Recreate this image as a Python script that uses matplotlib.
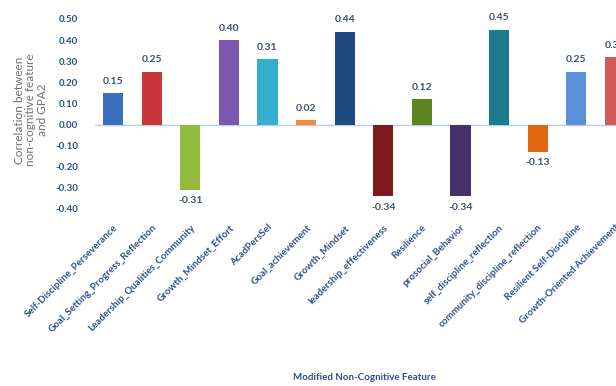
import matplotlib
matplotlib.use('Agg')
import matplotlib.pyplot as plt
import numpy as np

plt.rcParams['font.family'] = ['Lato', 'DejaVu Sans']

# Data
features = ['Self-Discipline_Perseverance', 'Goal_Setting_Progress_Reflection',
            'Leadership_Qualities_Community', 'Growth_Mindset_Effort', 'AcadPersSel',
            'Goal_achievement', 'Growth_Mindset', 'leadership_effectiveness',
            'Resilience', 'prosocial_Behavior', 'self_discipline_reflection',
            'community_discipline_reflection', 'Resilient Self-Discipline',
            'Growth-Oriented Achievement']
corr = [0.15, 0.25, -0.31, 0.40, 0.31, 0.02, 0.44, -0.34, 0.12, -0.34, 0.45, -0.13, 0.25, 0.32]
yticks = [0.50, 0.40, 0.30, 0.20, 0.10, 0.00, -0.10, -0.20, -0.30, -0.40]

colors = ['#3d6fc0', '#c9373a', '#92bb3e', '#7d57ae', '#36aed0', '#ee8c3c', '#1d4a80',
          '#7c1a1d', '#5c8421', '#46306b', '#1b7a8c', '#e0660f', '#5a90d8', '#d35a5a']

label_col = '#2c4f8a'
text_col = '#3d4f6e'

fig = plt.figure(figsize=(6.16, 3.86), dpi=100)
ax = fig.add_axes([95 / 616, 1 - 209 / 386, 1 - 95 / 616, 190 / 386])

x = np.arange(len(features))
ax.bar(x, corr, width=0.52, color=colors, zorder=2)
ax.axhline(0, color='#b8cce4', linewidth=1.0, zorder=1)

for xi, v in zip(x, corr):
    if v >= 0:
        ax.text(xi, v + 0.035, '%.2f' % v, ha='center', va='bottom', fontsize=7.5,
                fontweight='bold', color=text_col)
    else:
        ax.text(xi, v - 0.03, '%.2f' % v, ha='center', va='top', fontsize=7.5,
                fontweight='bold', color=text_col)

ax.set_xlim(-0.47, 13.03)
ax.set_ylim(-0.40, 0.50)
ax.set_yticks(yticks)
ax.set_yticklabels(['%.2f' % t for t in yticks], fontsize=7, fontweight='bold', color=label_col)
ax.set_xticks(x)
ax.set_xticklabels(features, rotation=45, ha='right', va='top', rotation_mode='anchor',
                   fontsize=7, fontweight='bold', color=label_col)
ax.tick_params(axis='both', length=0)
ax.tick_params(axis='y', pad=12)
ax.tick_params(axis='x', pad=10)
for s in ax.spines.values():
    s.set_visible(False)

fig.text(31 / 616, 1 - 110 / 386, 'Correlation between\nnon-cognitive feature\nand GPA2',
         rotation=90, ha='center', va='center', fontsize=8.5, color='#707070',
         linespacing=1.0)
fig.text(364 / 616, 1 - 378 / 386, 'Modified Non-Cognitive Feature', ha='center',
         va='center', fontsize=7, fontweight='bold', color=label_col)

fig.savefig('out.png', dpi=100)
